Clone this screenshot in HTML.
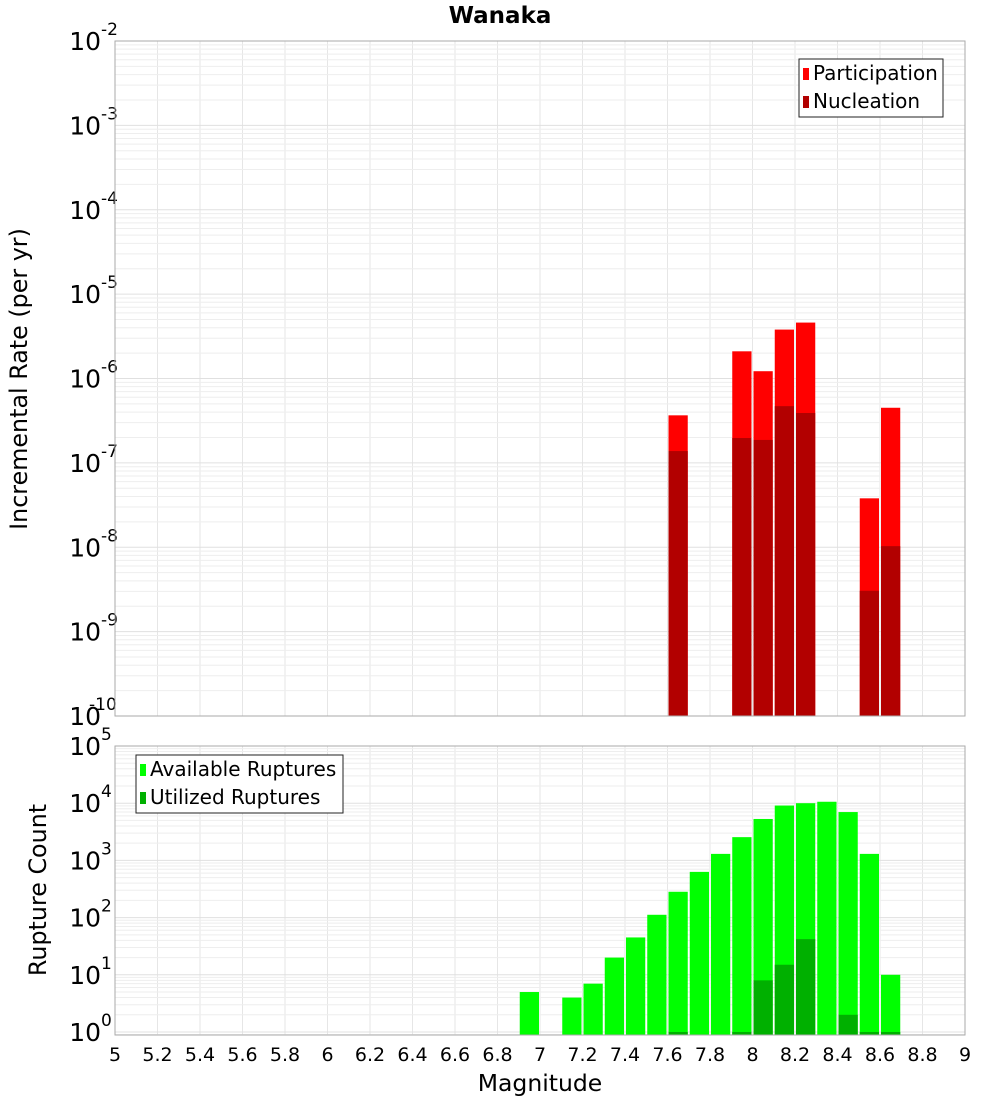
<!DOCTYPE html>
<html><head><meta charset="utf-8"><style>
body{margin:0;background:#fff}
svg{display:block;font-family:"DejaVu Sans","Liberation Sans",sans-serif}
</style></head><body>
<svg id="chart" width="1000" height="1100" viewBox="0 0 1000 1100">
<text x="500" y="23" text-anchor="middle" font-size="23" font-weight="bold">Wanaka</text>
<g id="top"></g><g id="bot"></g>
<text transform="translate(27,379) rotate(-90)" text-anchor="middle" font-size="23.8">Incremental Rate (per yr)</text>
<text transform="translate(46,890) rotate(-90)" text-anchor="middle" font-size="23.8">Rupture Count</text>
<text x="540" y="1091" text-anchor="middle" font-size="23.5">Magnitude</text>
</svg>
<script>
const bins=[7.65,7.95,8.05,8.15,8.25,8.55,8.65];
const participation=[3.66e-7,2.1e-6,1.22e-6,3.8e-6,4.6e-6,3.8e-8,4.5e-7];
const nucleation=[1.38e-7,1.97e-7,1.87e-7,4.7e-7,3.9e-7,3.05e-9,1.03e-8];
const rupBins=[6.95,7.15,7.25,7.35,7.45,7.55,7.65,7.75,7.85,7.95,8.05,8.15,8.25,8.35,8.45,8.55,8.65];
const available=[5,4,7,20,45,112,283,630,1300,2550,5300,9100,10000,10600,7000,1300,10];
const utilized=[0,0,0,0,0,0,1,0,0,1,8,15,42,0,2,1,1];
const xTicks=[5,5.2,5.4,5.6,5.8,6,6.2,6.4,6.6,6.8,7,7.2,7.4,7.6,7.8,8,8.2,8.4,8.6,8.8,9];
const topExp=[-2,-3,-4,-5,-6,-7,-8,-9,-10];
const botExp=[5,4,3,2,1,0];
const NS="http://www.w3.org/2000/svg";
const L=115,R=965;
const X=v=>L+(v-5)*(R-L)/4;
const Yt=v=>41+(-2-Math.log10(v))*84.375;
const Yb=v=>1032-Math.log10(v)*57.2;
function mk(p,t,a){const e=document.createElementNS(NS,t);for(const k in a)e.setAttribute(k,a[k]);p.appendChild(e);return e;}
function panel(g,top,bot,exps,Y,name){
  for(let v=5;v<=9.001;v+=0.2){const l=mk(g,'line',{x1:X(v),x2:X(v),y1:top,y2:bot,stroke:'#e6e6e6'});
    }
  const lo=Math.min(...exps)-1,hi=Math.max(...exps);
  for(let e=lo;e<=hi;e++)for(let m=1;m<10;m++){const y=Y(m*Math.pow(10,e));if(y<top||y>bot)continue;
    const l=mk(g,'line',{x1:L,x2:R,y1:y,y2:y,stroke:m==1?'#e0e0e0':'#eeeeee'});
    }
  exps.forEach(e=>{const y=Y(Math.pow(10,e));
    const t=mk(g,'text',{x:101,y:y+9,'text-anchor':'end','font-size':25});
    
    t.textContent='10';
    const s=mk(g,'text',{x:e==-10?89:101,y:y-6,'font-size':17});
    
    s.textContent=(e>=0?' ':'')+e;});
}
function bar(g,x,y0,val,Y,col,name){const y=Y(val);const b=mk(g,'rect',{x:X(x-0.05)+1,y:y,width:X(0.1+5)-X(5)-2,height:Math.max(0,y0-y),fill:col});
  }
const gt=document.getElementById('top'),gb=document.getElementById('bot');
panel(gt,41,716,topExp,Yt,'top');
bins.forEach((b,i)=>bar(gt,b,716,participation[i],Yt,'#ff0000','participation-bar'));
bins.forEach((b,i)=>bar(gt,b,716,nucleation[i],Yt,'#b20000','nucleation-bar'));
let r=mk(gt,'rect',{x:L,y:41,width:R-L,height:675,fill:'none',stroke:'#aaaaaa'});

panel(gb,746,1035,botExp,Yb,'bot');
rupBins.forEach((b,i)=>{if(available[i]>0)bar(gb,b,1035,available[i],Yb,'#00ff00','available-bar');});
rupBins.forEach((b,i)=>{if(utilized[i]>0)bar(gb,b,1035,utilized[i],Yb,'#00b000','utilized-bar');});
r=mk(gb,'rect',{x:L,y:746,width:R-L,height:289,fill:'none',stroke:'#aaaaaa'});

xTicks.forEach(v=>{const t=mk(gb,'text',{x:X(v),y:1061,'text-anchor':'middle','font-size':19});
  
  t.textContent=String(v);});
function legend(g,x,y,w,items){const f=mk(g,'rect',{x:x,y:y,width:w,height:58,fill:'#fff',stroke:'#222'});
  
  items.forEach((it,i)=>{const s=mk(g,'rect',{x:x+4,y:y+9+i*28,width:6,height:12,fill:it[1]});
    
    const t=mk(g,'text',{x:x+14,y:y+21+i*28,'font-size':20});
    
    t.textContent=it[0];});}
legend(gt,799,59,144,[['Participation','#ff0000'],['Nucleation','#b20000']]);
legend(gb,136,755,207,[['Available Ruptures','#00ff00'],['Utilized Ruptures','#00b000']]);
</script>
</body></html>
